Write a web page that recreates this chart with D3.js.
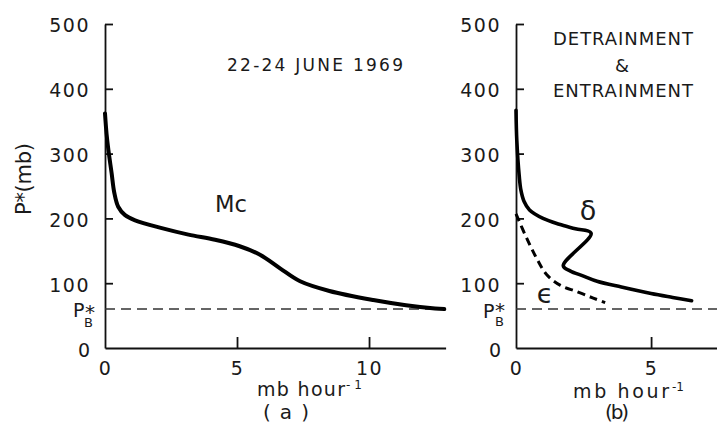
<!DOCTYPE html>
<html>
<head>
<meta charset="utf-8">
<script src="https://cdn.jsdelivr.net/npm/d3@7"></script>
<style>
  html, body { margin: 0; padding: 0; background: #fff; }
  svg { display: block; }
  text { font-family: "DejaVu Sans", "Liberation Sans", sans-serif; fill: #1a1a1a; }
</style>
</head>
<body>
<svg id="chart" width="717" height="425"></svg>
<script>
// ---------- data ----------
const pressureTicks = [100, 200, 300, 400, 500];
const pressureTickLabels = ["100", "200", "300", "400", "500"];
const xTicksA = [0, 5, 10];
const xTicksB = [0, 5];
const pBase = 60;            // P*_B level (mb)

// (a) Mc : mass flux, mb/hour vs P* (mb)
const mcX = [0, 0.06, 0.13, 0.25, 0.35, 0.5, 0.76, 1.14, 2.15, 3.16, 4.17, 5.1, 5.87, 6.63, 7.39, 8.5, 10.16, 11.4, 12.5, 12.85];
const mcP = [362, 330, 305, 270, 240, 218, 205, 197, 185, 175, 167, 157, 144, 123, 103, 88, 74, 66, 61, 60];

// (b) delta : detrainment
const deltaX = [0, 0.03, 0.12, 0.18, 0.3, 0.5, 1.0, 1.6, 2.2, 2.78, 1.75, 2.0, 2.5, 3.0, 3.9, 5.0, 5.8, 6.5];
const deltaP = [367, 320, 265, 244, 226, 213, 200, 191, 184, 177, 127, 119, 111, 103, 94, 84, 78, 73];

// (b) epsilon : entrainment
const epsX = [0, 0.4, 0.77, 1.14, 1.63, 2.25, 2.86, 3.3];
const epsP = [207, 169, 138, 113, 97, 87, 77, 70];

// ---------- scales ----------
const svg = d3.select("#chart");
const y = d3.scaleLinear().domain([0, 500]).range([348, 24]);
const xA = d3.scaleLinear().domain([0, 12.9]).range([105, 445.6]);
const xB = d3.scaleLinear().domain([0, 7.44]).range([516, 717]);

function drawAxes(x, xTicks) {
  const g = svg.append("g");
  const yAx = g.append("g").attr("transform", `translate(${x(0)},0)`)
    .call(d3.axisLeft(y).tickValues(pressureTicks)
      .tickFormat((d, i) => pressureTickLabels[i])
      .tickSizeInner(-8).tickSizeOuter(0).tickPadding(15));
  const xAx = g.append("g").attr("transform", `translate(0,${y(0)})`)
    .call(d3.axisBottom(x).tickValues(xTicks).tickFormat(d3.format("d"))
      .tickSizeInner(-11).tickSizeOuter(0).tickPadding(14));
  [yAx, xAx].forEach(a => {
    a.select(".domain").attr("stroke", "#111").attr("stroke-width", 1.8);
    a.selectAll(".tick line").attr("stroke", "#111").attr("stroke-width", 1.8);
    a.selectAll(".tick text").style("font-size", "19px").style("letter-spacing", "1.5px")
      .attr("fill", "#1a1a1a");
  });
  yAx.selectAll(".tick text").attr("dy", "0.42em");
  xAx.selectAll(".tick").filter(d => d === 0).select("line").attr("stroke", "none");
  // y "0" label
  g.append("text").attr("x", x(0) - 15).attr("y", y(0) + 9)
    .attr("text-anchor", "end").style("font-size", "19px").text("0");
  // P*_B dashed line
  g.append("line").attr("x1", x(0)).attr("x2", x.range()[1])
    .attr("y1", y(pBase)).attr("y2", y(pBase))
    .attr("stroke", "#333").attr("stroke-width", 1.5).attr("stroke-dasharray", "10,6");
  return g;
}

drawAxes(xA, xTicksA);
drawAxes(xB, xTicksB);

// ---------- curves ----------
function curve(x, xs, ps, width, dash) {
  const pts = xs.map((v, i) => [v, ps[i]]);
  const line = d3.line().x(d => x(d[0])).y(d => y(d[1]))
    .curve(d3.curveCatmullRom.alpha(0.5));
  const p = svg.append("path").datum(pts).attr("d", line)
    .attr("fill", "none").attr("stroke", "#000").attr("stroke-width", width)
    .attr("stroke-linejoin", "round").attr("stroke-linecap", "round");
  if (dash) p.attr("stroke-dasharray", dash).attr("stroke-linecap", "butt");
}
curve(xA, mcX, mcP, 4);
curve(xB, deltaX, deltaP, 3.6);
curve(xB, epsX, epsP, 3, "8,5");

// ---------- texts ----------
function txt(x, yy, s, size, opts = {}) {
  const t = svg.append("text").attr("x", x).attr("y", yy).style("font-size", size + "px").text(s);
  if (opts.anchor) t.attr("text-anchor", opts.anchor);
  if (opts.len) t.attr("textLength", opts.len).attr("lengthAdjust", opts.adj || "spacing");
  if (opts.transform) t.attr("transform", opts.transform);
  return t;
}
function pb(px, py, sx, sy, bx, by) {
  const t = svg.append("text").attr("x", px).attr("y", py).style("font-size", "19px");
  t.append("tspan").text("P");
  t.append("tspan").attr("x", sx).attr("y", sy).style("font-size", "20px").text("*");
  t.append("tspan").attr("x", bx).attr("y", by).style("font-size", "13px").text("B");
}
// y-axis title
txt(0, 0, "P*(mb)", 21, { anchor: "middle", len: 72, transform: "translate(31,179) rotate(-90)" });

// panel (a)
txt(227, 71, "22-24 JUNE 1969", 17, { len: 176 });
txt(215, 212, "Mc", 23, { len: 32, adj: "spacingAndGlyphs" });
pb(73, 317, 85, 319, 84, 327);
txt(257, 396, "mb hour", 19, { len: 88 });
txt(346, 389, "-1", 12, { len: 16 });
txt(263, 419, "(a)", 20, { len: 46 });

// panel (b)
txt(553, 45, "DETRAINMENT", 18, { len: 140 });
txt(622, 72, "&", 18, { anchor: "middle" });
txt(553, 97, "ENTRAINMENT", 18, { len: 140 });
txt(588, 220, "δ", 27, { anchor: "middle" });
txt(545, 303, "ϵ", 27, { anchor: "middle" });
pb(483, 318, 495, 317, 495, 326);
txt(573, 398, "mb hour", 19, { len: 96 });
txt(672, 391, "-1", 12, { len: 12 });
txt(605, 419, "(b)", 20, { len: 24 });
</script>
</body>
</html>
